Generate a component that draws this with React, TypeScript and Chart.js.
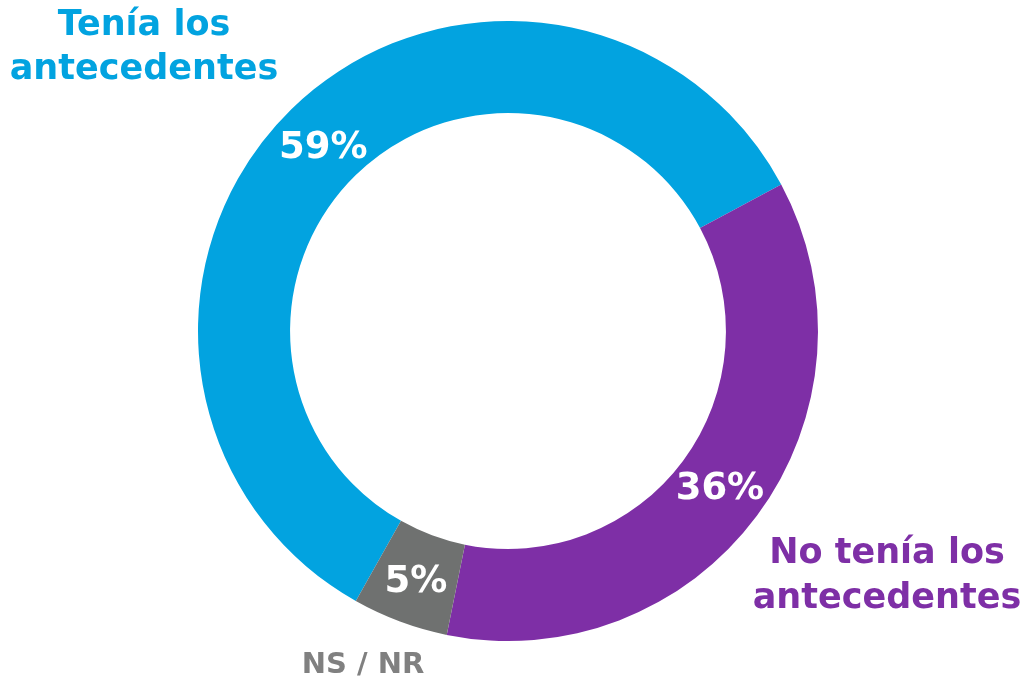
import React, { useEffect, useRef } from "react";
import { Chart, registerables } from "chart.js";

Chart.register(...registerables);

const categories = ["Tenía los antecedentes", "No tenía los antecedentes", "NS / NR"];
const values = [59, 36, 5];
const valueLabels = ["59%", "36%", "5%"];
const colors = ["#02A3E0", "#7E2FA6", "#6F7170"];

const FONT = '"DejaVu Sans", sans-serif';
const labelNudgeY = [6, 1, 4];

const labelsPlugin = {
  id: "sliceLabels",
  afterDatasetsDraw(chart: any) {
    const ctx = chart.ctx;
    const meta = chart.getDatasetMeta(0);
    ctx.save();
    ctx.fillStyle = "#ffffff";
    ctx.font = `bold 37px ${FONT}`;
    ctx.textAlign = "center";
    ctx.textBaseline = "middle";
    meta.data.forEach((arc: any, i: number) => {
      const p = arc.tooltipPosition();
      ctx.fillText(valueLabels[i], p.x, p.y + labelNudgeY[i]);
    });

    // outside category labels
    ctx.textBaseline = "alphabetic";
    ctx.font = `bold 35px ${FONT}`;
    ctx.fillStyle = colors[0];
    ctx.fillText("Tenía los", 144, 35);
    ctx.fillText("antecedentes", 144, 79);
    ctx.fillStyle = colors[1];
    ctx.fillText("No tenía los", 887, 563);
    ctx.fillText("antecedentes", 887, 608);
    ctx.fillStyle = "#808080";
    ctx.font = `bold 29px ${FONT}`;
    ctx.fillText(categories[2], 363, 673);
    ctx.restore();
  },
};

export default function App() {
  const ref = useRef<HTMLCanvasElement>(null);
  useEffect(() => {
    if (!ref.current) return;
    const chart = new Chart(ref.current, {
      type: "doughnut",
      data: {
        labels: categories,
        datasets: [
          {
            data: values,
            backgroundColor: colors,
            borderWidth: 0,
            hoverOffset: 0,
            radius: 310,
          } as any,
        ],
      },
      options: {
        responsive: false,
        animation: false,
        events: [],
        rotation: 209.4,
        cutout: "70.3%",
        layout: { padding: { left: 0, right: 12, top: 0, bottom: 16 } },
        plugins: {
          legend: { display: false },
          tooltip: { enabled: false },
        },
      },
      plugins: [labelsPlugin],
    });
    return () => chart.destroy();
  }, []);
  return (
    <div style={{ position: "absolute", left: 0, top: 0, width: 1028, height: 678, background: "#fff" }}>
      <canvas ref={ref} width={1028} height={678} />
    </div>
  );
}
